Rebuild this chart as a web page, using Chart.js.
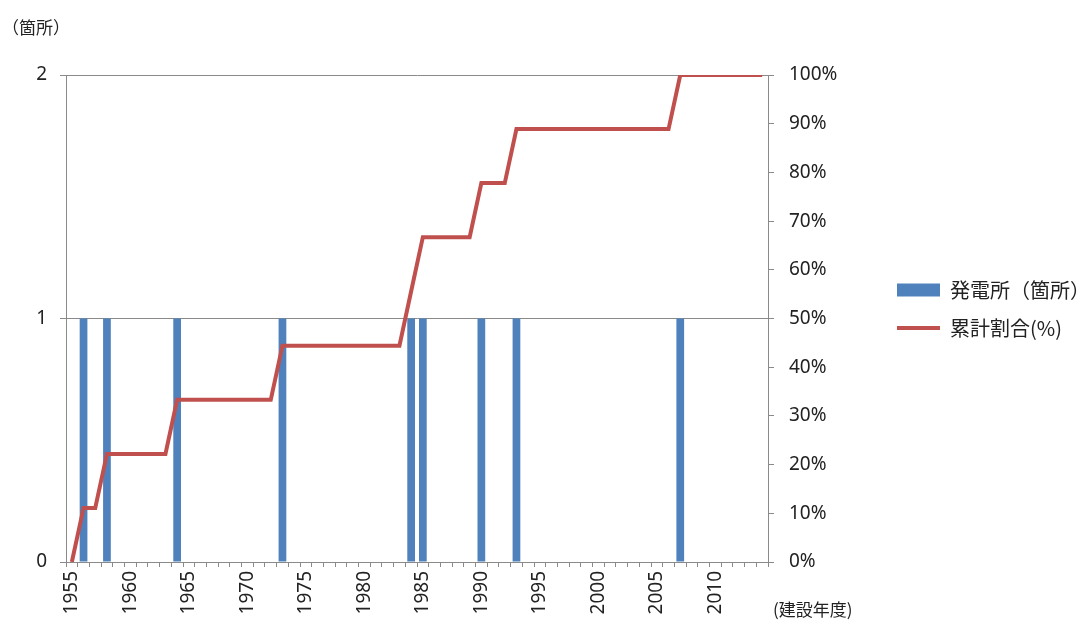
<!DOCTYPE html>
<html>
<head>
<meta charset="utf-8">
<script src="https://cdn.jsdelivr.net/npm/chart.js@4.4.0/dist/chart.umd.min.js"></script>
<style>
  html, body { margin: 0; padding: 0; background: #fff; }
  #wrap { width: 1090px; height: 624px; position: relative; }
</style>
</head>
<body>
<div id="wrap"><canvas id="chart1"></canvas></div>
<script>
// categories: construction year
const years = [
  "1955","1956","1957","1958","1959","1960","1961","1962","1963","1964",
  "1965","1966","1967","1968","1969","1970","1971","1972","1973","1974",
  "1975","1976","1977","1978","1979","1980","1981","1982","1983","1984",
  "1985","1986","1987","1988","1989","1990","1991","1992","1993","1994",
  "1995","1996","1997","1998","1999","2000","2001","2002","2003","2004",
  "2005","2006","2007","2008","2009","2010","2011","2012","2013","2014"
];

// power stations built per year
const plants = [
  0,1,0,1,0,0,0,0,0,1,
  0,0,0,0,0,0,0,0,1,0,
  0,0,0,0,0,0,0,0,0,1,
  1,0,0,0,0,1,0,0,1,0,
  0,0,0,0,0,0,0,0,0,0,
  0,0,1,0,0,0,0,0,0,0
];

// cumulative share (%)
const cumulative = [
  0,11.1,11.1,22.2,22.2,22.2,22.2,22.2,22.2,33.3,
  33.3,33.3,33.3,33.3,33.3,33.3,33.3,33.3,44.4,44.4,
  44.4,44.4,44.4,44.4,44.4,44.4,44.4,44.4,44.4,55.6,
  66.7,66.7,66.7,66.7,66.7,77.8,77.8,77.8,88.9,88.9,
  88.9,88.9,88.9,88.9,88.9,88.9,88.9,88.9,88.9,88.9,
  88.9,88.9,100,100,100,100,100,100,100,100
];

const xTickLabels = ["1955","1960","1965","1970","1975","1980","1985","1990","1995","2000","2005","2010"];
const countTicks = [0, 1, 2];
const percentTicks = [0, 10, 20, 30, 40, 50, 60, 70, 80, 90, 100];

const barColor = "#4F81BD";
const lineColor = "#C0504D";
const gridColor = "#8a8a8a";
const textColor = "#222";
const padRight = -10;

const axisNotes = {
  id: "axisNotes",
  afterDraw(chart) {
    const { ctx, chartArea } = chart;
    ctx.save();
    ctx.fillStyle = textColor;
    ctx.font = '17px "Noto Sans CJK JP"';
    ctx.textBaseline = "middle";
    ctx.textAlign = "left";
    ctx.fillText("（箇所）", 2, 28);
    ctx.fillText("(建設年度)", chartArea.right + 5, chartArea.bottom + 48);
    ctx.restore();
  }
};

const config = {
  type: "bar",
  data: {
    labels: years,
    datasets: [
      {
        type: "line",
        label: "累計割合(%)",
        data: cumulative,
        yAxisID: "y1",
        borderColor: lineColor,
        backgroundColor: lineColor,
        borderWidth: 4,
        pointRadius: 0,
        tension: 0,
        fill: false
      },
      {
        type: "bar",
        label: "発電所（箇所）",
        data: plants,
        yAxisID: "y",
        backgroundColor: barColor,
        categoryPercentage: 1,
        barPercentage: 0.66
      }
    ]
  },
  options: {
    responsive: true,
    maintainAspectRatio: false,
    animation: false,
    layout: { padding: { top: 75, left: 0, right: padRight, bottom: 0 } },
    plugins: {
      tooltip: { enabled: false },
      legend: {
        position: "right",
        align: "start",
        maxWidth: 260,
        title: { display: true, text: "", font: { size: 20 }, padding: { top: 163, bottom: 0 } },
        labels: {
          usePointStyle: true,
          pointStyleWidth: 43,
          boxHeight: 13,
          padding: 18,
          color: textColor,
          font: { family: "Noto Sans CJK JP", size: 20 },
          generateLabels: (chart) => {
            const ds = chart.data.datasets;
            return [
              { text: ds[1].label, fillStyle: barColor, strokeStyle: barColor, lineWidth: 0, pointStyle: "rect", datasetIndex: 1, hidden: false, fontColor: textColor },
              { text: ds[0].label, fillStyle: lineColor, strokeStyle: lineColor, lineWidth: 4, pointStyle: "line", datasetIndex: 0, hidden: false, fontColor: textColor }
            ];
          }
        }
      }
    },
    scales: {
      x: {
        offset: true,
        grid: { offset: true, drawOnChartArea: false, tickLength: 5, color: gridColor },
        border: { color: gridColor },
        ticks: {
          autoSkip: false,
          maxRotation: 90,
          minRotation: 90,
          padding: 4,
          color: textColor,
          font: { family: "Noto Sans", size: 19 },
          callback: function (value) {
            const lab = this.getLabelForValue(value);
            return xTickLabels.includes(lab) ? lab : "";
          }
        },
        afterFit: (scale) => { scale.height = 62; }
      },
      y: {
        position: "left",
        min: countTicks[0],
        max: countTicks[countTicks.length - 1],
        grid: { color: gridColor, tickLength: 6 },
        border: { color: gridColor },
        ticks: {
          stepSize: 1,
          padding: 13,
          color: textColor,
          font: { family: "Noto Sans", size: 19 }
        },
        afterFit: (scale) => { scale.width = 66; }
      },
      y1: {
        position: "right",
        min: percentTicks[0],
        max: percentTicks[percentTicks.length - 1],
        grid: { drawOnChartArea: false, color: gridColor, tickLength: 6 },
        border: { color: gridColor },
        ticks: {
          stepSize: 10,
          padding: 15,
          color: textColor,
          font: { family: "Noto Sans", size: 19 },
          callback: (v) => v + "%"
        },
        afterFit: (scale) => {
          const lg = scale.chart.legend;
          scale.width = scale.chart.width - padRight - 768 - (lg ? lg.width : 0);
        }
      }
    }
  },
  plugins: [axisNotes]
};

const myChart = new Chart(document.getElementById("chart1"), config);
</script>
</body>
</html>
